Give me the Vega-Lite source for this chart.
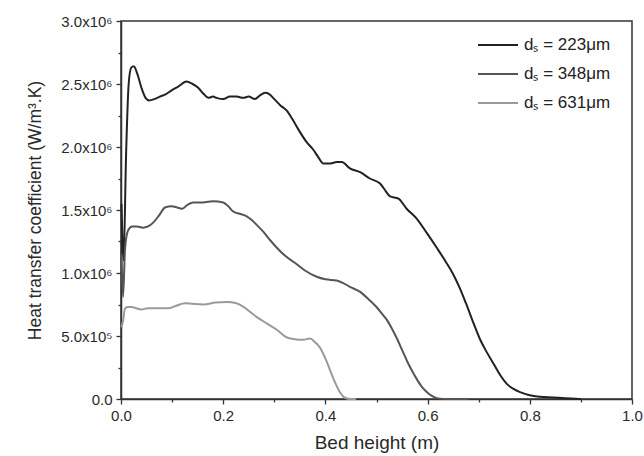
{
"$schema": "https://vega.github.io/schema/vega-lite/v6.json",
"width": 511, "height": 378,
"autosize": {"type": "none"},
"padding": {"left": 121, "top": 21, "right": 12, "bottom": 57},
"background": "white",
"config": {
  "view": {"stroke": "#333", "strokeWidth": 1.5},
  "font": "Liberation Sans",
  "axis": {"labelColor": "#2a2a2a", "titleColor": "#2a2a2a", "labelFontSize": 15, "titleFontSize": 18, "titleFontWeight": "normal", "tickColor": "#333", "domainColor": "#333", "domainWidth": 1.5, "tickWidth": 1.3, "tickSize": 5, "grid": false, "labelFont": "Liberation Sans", "titleFont": "Liberation Sans"},
  "legend": {"labelFont": "Liberation Sans", "labelFontSize": 17, "labelColor": "#222"}
},
"data": {"values": [
{"ds":"223","x":0.001,"h":1550000},{"ds":"223","x":0.005,"h":1100000},{"ds":"223","x":0.010,"h":1950000},{"ds":"223","x":0.015,"h":2500000},{"ds":"223","x":0.020,"h":2630000},{"ds":"223","x":0.025,"h":2640000},{"ds":"223","x":0.032,"h":2580000},{"ds":"223","x":0.040,"h":2470000},{"ds":"223","x":0.048,"h":2390000},{"ds":"223","x":0.055,"h":2370000},{"ds":"223","x":0.065,"h":2380000},{"ds":"223","x":0.076,"h":2400000},{"ds":"223","x":0.088,"h":2420000},{"ds":"223","x":0.099,"h":2450000},{"ds":"223","x":0.112,"h":2480000},{"ds":"223","x":0.128,"h":2520000},{"ds":"223","x":0.140,"h":2500000},{"ds":"223","x":0.151,"h":2470000},{"ds":"223","x":0.162,"h":2420000},{"ds":"223","x":0.171,"h":2390000},{"ds":"223","x":0.180,"h":2400000},{"ds":"223","x":0.187,"h":2390000},{"ds":"223","x":0.200,"h":2380000},{"ds":"223","x":0.213,"h":2400000},{"ds":"223","x":0.226,"h":2400000},{"ds":"223","x":0.239,"h":2390000},{"ds":"223","x":0.250,"h":2400000},{"ds":"223","x":0.262,"h":2380000},{"ds":"223","x":0.272,"h":2410000},{"ds":"223","x":0.282,"h":2430000},{"ds":"223","x":0.290,"h":2420000},{"ds":"223","x":0.300,"h":2380000},{"ds":"223","x":0.312,"h":2330000},{"ds":"223","x":0.324,"h":2290000},{"ds":"223","x":0.337,"h":2210000},{"ds":"223","x":0.350,"h":2120000},{"ds":"223","x":0.363,"h":2040000},{"ds":"223","x":0.376,"h":1980000},{"ds":"223","x":0.386,"h":1920000},{"ds":"223","x":0.396,"h":1870000},{"ds":"223","x":0.410,"h":1870000},{"ds":"223","x":0.422,"h":1880000},{"ds":"223","x":0.432,"h":1880000},{"ds":"223","x":0.448,"h":1830000},{"ds":"223","x":0.468,"h":1800000},{"ds":"223","x":0.487,"h":1750000},{"ds":"223","x":0.507,"h":1710000},{"ds":"223","x":0.518,"h":1650000},{"ds":"223","x":0.526,"h":1610000},{"ds":"223","x":0.543,"h":1590000},{"ds":"223","x":0.559,"h":1510000},{"ds":"223","x":0.579,"h":1430000},{"ds":"223","x":0.598,"h":1320000},{"ds":"223","x":0.618,"h":1200000},{"ds":"223","x":0.637,"h":1080000},{"ds":"223","x":0.650,"h":990000},{"ds":"223","x":0.663,"h":880000},{"ds":"223","x":0.675,"h":760000},{"ds":"223","x":0.690,"h":600000},{"ds":"223","x":0.703,"h":470000},{"ds":"223","x":0.716,"h":370000},{"ds":"223","x":0.729,"h":280000},{"ds":"223","x":0.742,"h":190000},{"ds":"223","x":0.755,"h":120000},{"ds":"223","x":0.768,"h":80000},{"ds":"223","x":0.781,"h":55000},{"ds":"223","x":0.800,"h":30000},{"ds":"223","x":0.820,"h":18000},{"ds":"223","x":0.846,"h":12000},{"ds":"223","x":0.870,"h":6000},{"ds":"223","x":0.890,"h":2000},{"ds":"223","x":0.900,"h":0},
{"ds":"348","x":0.001,"h":1150000},{"ds":"348","x":0.004,"h":810000},{"ds":"348","x":0.008,"h":1200000},{"ds":"348","x":0.014,"h":1340000},{"ds":"348","x":0.022,"h":1370000},{"ds":"348","x":0.031,"h":1370000},{"ds":"348","x":0.043,"h":1360000},{"ds":"348","x":0.053,"h":1370000},{"ds":"348","x":0.063,"h":1400000},{"ds":"348","x":0.075,"h":1460000},{"ds":"348","x":0.086,"h":1520000},{"ds":"348","x":0.099,"h":1530000},{"ds":"348","x":0.110,"h":1520000},{"ds":"348","x":0.119,"h":1510000},{"ds":"348","x":0.130,"h":1540000},{"ds":"348","x":0.141,"h":1560000},{"ds":"348","x":0.160,"h":1560000},{"ds":"348","x":0.180,"h":1570000},{"ds":"348","x":0.200,"h":1560000},{"ds":"348","x":0.210,"h":1530000},{"ds":"348","x":0.219,"h":1490000},{"ds":"348","x":0.232,"h":1470000},{"ds":"348","x":0.246,"h":1450000},{"ds":"348","x":0.256,"h":1420000},{"ds":"348","x":0.266,"h":1380000},{"ds":"348","x":0.280,"h":1320000},{"ds":"348","x":0.292,"h":1260000},{"ds":"348","x":0.305,"h":1200000},{"ds":"348","x":0.320,"h":1140000},{"ds":"348","x":0.344,"h":1070000},{"ds":"348","x":0.360,"h":1020000},{"ds":"348","x":0.383,"h":970000},{"ds":"348","x":0.400,"h":950000},{"ds":"348","x":0.422,"h":940000},{"ds":"348","x":0.435,"h":920000},{"ds":"348","x":0.448,"h":890000},{"ds":"348","x":0.468,"h":850000},{"ds":"348","x":0.485,"h":790000},{"ds":"348","x":0.500,"h":730000},{"ds":"348","x":0.510,"h":680000},{"ds":"348","x":0.520,"h":630000},{"ds":"348","x":0.530,"h":560000},{"ds":"348","x":0.540,"h":480000},{"ds":"348","x":0.550,"h":390000},{"ds":"348","x":0.560,"h":300000},{"ds":"348","x":0.570,"h":220000},{"ds":"348","x":0.580,"h":150000},{"ds":"348","x":0.590,"h":90000},{"ds":"348","x":0.600,"h":50000},{"ds":"348","x":0.610,"h":20000},{"ds":"348","x":0.620,"h":5000},{"ds":"348","x":0.640,"h":0},{"ds":"348","x":0.680,"h":0},
{"ds":"631","x":0.001,"h":570000},{"ds":"631","x":0.004,"h":620000},{"ds":"631","x":0.008,"h":720000},{"ds":"631","x":0.014,"h":730000},{"ds":"631","x":0.021,"h":730000},{"ds":"631","x":0.030,"h":720000},{"ds":"631","x":0.040,"h":710000},{"ds":"631","x":0.052,"h":720000},{"ds":"631","x":0.063,"h":720000},{"ds":"631","x":0.078,"h":720000},{"ds":"631","x":0.092,"h":720000},{"ds":"631","x":0.108,"h":740000},{"ds":"631","x":0.125,"h":760000},{"ds":"631","x":0.140,"h":755000},{"ds":"631","x":0.161,"h":750000},{"ds":"631","x":0.185,"h":765000},{"ds":"631","x":0.207,"h":770000},{"ds":"631","x":0.226,"h":760000},{"ds":"631","x":0.240,"h":730000},{"ds":"631","x":0.253,"h":690000},{"ds":"631","x":0.266,"h":650000},{"ds":"631","x":0.285,"h":600000},{"ds":"631","x":0.305,"h":550000},{"ds":"631","x":0.324,"h":490000},{"ds":"631","x":0.340,"h":475000},{"ds":"631","x":0.356,"h":470000},{"ds":"631","x":0.370,"h":480000},{"ds":"631","x":0.380,"h":450000},{"ds":"631","x":0.389,"h":410000},{"ds":"631","x":0.399,"h":330000},{"ds":"631","x":0.409,"h":230000},{"ds":"631","x":0.419,"h":130000},{"ds":"631","x":0.429,"h":50000},{"ds":"631","x":0.438,"h":10000},{"ds":"631","x":0.448,"h":0},{"ds":"631","x":0.460,"h":0}
]},
"layer": [
  {"mark": {"type": "line", "strokeWidth": 2, "interpolate": "monotone"},
   "encoding": {
     "x": {"field": "x", "type": "quantitative", "scale": {"domain": [0, 1], "nice": false},
           "axis": {"title": "Bed height (m)", "titleFontSize": 19, "values": [0, 0.2, 0.4, 0.6, 0.8, 1.0], "format": ".1f", "labelPadding": 4, "titlePadding": 10, "labelFlush": false}},
     "y": {"field": "h", "type": "quantitative", "scale": {"domain": [0, 3000000], "nice": false},
           "axis": {"title": "Heat transfer coefficient (W/m³.K)", "titleFontSize": 17.5, "values": [0, 500000, 1000000, 1500000, 2000000, 2500000, 3000000],
                    "labelExpr": "datum.value == 0 ? '0.0' : (datum.value >= 999999 ? format(datum.value/1000000, '.1f') + 'x10⁶' : format(datum.value/100000, '.1f') + 'x10⁵')",
                    "labelPadding": 4, "titlePadding": 16, "labelFlush": false}},
     "color": {"field": "ds", "type": "nominal",
               "scale": {"domain": ["223", "348", "631"], "range": ["#222222", "#555555", "#9a9a9a"]},
               "legend": {"title": null, "orient": "none", "legendX": 356, "legendY": 3, "symbolType": "stroke", "symbolSize": 1600, "symbolStrokeWidth": 2, "labelOffset": 5, "rowPadding": 0, "padding": 0,
                          "labelExpr": "'dₛ = ' + datum.label + 'μm'"}}
   }},
  {"mark": {"type": "line", "opacity": 0},
   "encoding": {
     "x": {"field": "x", "type": "quantitative", "axis": {"orient": "bottom", "title": null, "labels": false, "domain": false, "values": [0.1, 0.3, 0.5, 0.7, 0.9], "tickSize": 3}},
     "y": {"field": "h", "type": "quantitative", "axis": {"orient": "left", "title": null, "labels": false, "domain": false, "values": [250000, 750000, 1250000, 1750000, 2250000, 2750000], "tickSize": 3}},
     "detail": {"field": "ds"}
   }}
],
"resolve": {"axis": {"x": "independent", "y": "independent"}}
}
